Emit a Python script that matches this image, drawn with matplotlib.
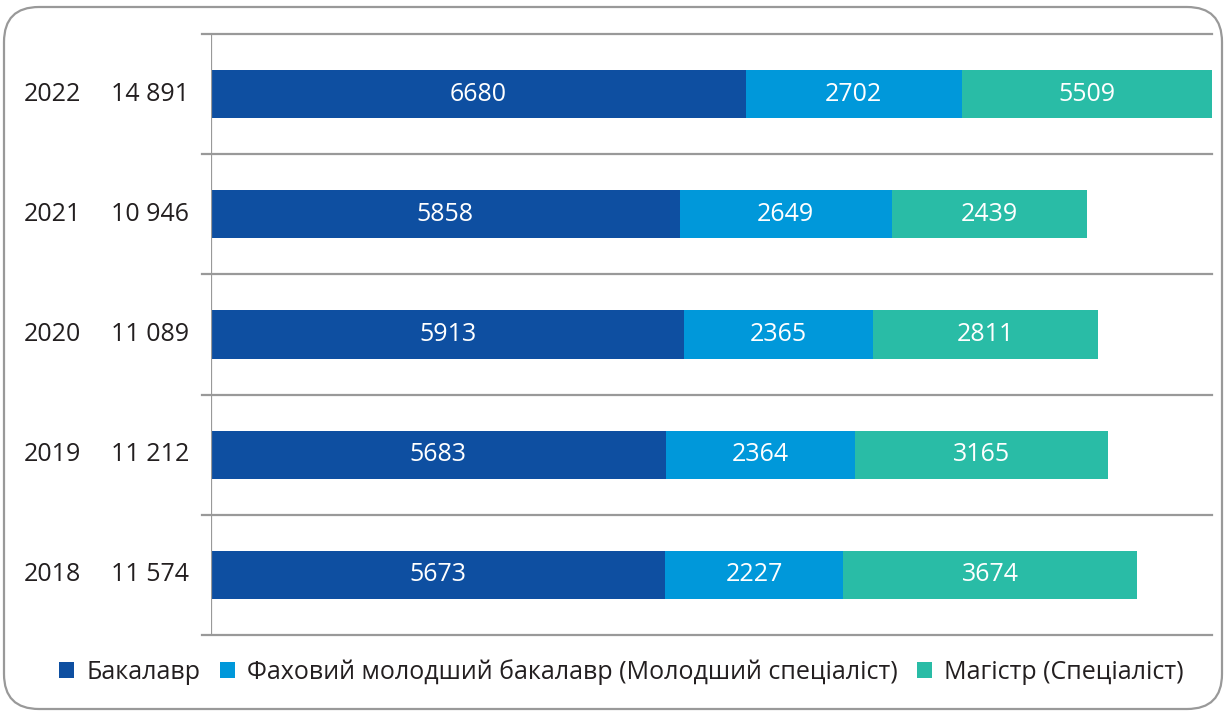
import matplotlib.pyplot as plt
import matplotlib.transforms as mtransforms
from matplotlib.patches import Patch, FancyBboxPatch

plt.rcParams["font.family"] = ["Open Sans", "DejaVu Sans"]

years = ["2018", "2019", "2020", "2021", "2022"]
bachelor = [5673, 5683, 5913, 5858, 6680]
junior = [2227, 2364, 2365, 2649, 2702]
master = [3674, 3165, 2811, 2439, 5509]

series = [bachelor, junior, master]
names = ["Бакалавр", "Фаховий молодший бакалавр (Молодший спеціаліст)", "Магістр (Спеціаліст)"]
colors = ["#0e4fa1", "#0098da", "#29bca6"]

XMAX = 12510
TEXT = "#231f20"
LINE = "#999999"
FS = 18

fig = plt.figure(figsize=(12.26, 7.12), dpi=100)
ax = fig.add_axes([211 / 1226, 1 - 635 / 712, 1001 / 1226, 601 / 712])

ypos = list(range(len(years)))
left = [0] * len(years)
for vals, col in zip(series, colors):
    ax.barh(ypos, vals, left=left, height=0.4, color=col, edgecolor="none")
    for y, l, v in zip(ypos, left, vals):
        vis = min(v, XMAX - l)
        ax.text(l + vis / 2, y, str(v), ha="center", va="center",
                color="white", fontsize=FS)
    left = [a + b for a, b in zip(left, vals)]

ax.set_xlim(0, XMAX)
ax.set_ylim(-0.5, len(years) - 0.5)
ax.axis("off")

# horizontal separators between rows
for b in [i - 0.5 for i in range(len(years) + 1)]:
    ax.axhline(b, xmin=-0.009, xmax=1.0, color=LINE, lw=1.6, clip_on=False, zorder=0)
ax.axvline(0, color=LINE, lw=1.6, zorder=3)

# year and total labels on the left
tr = mtransforms.blended_transform_factory(fig.transFigure, ax.transData)
for y, yr, tot in zip(ypos, years, left):
    ax.text(24 / 1226, y, yr, transform=tr, ha="left", va="center",
            fontsize=FS, color=TEXT)
    ax.text(189 / 1226, y, f"{tot:,}".replace(",", " "), transform=tr,
            ha="right", va="center", fontsize=FS, color=TEXT)

handles = [Patch(facecolor=c, edgecolor="none") for c in colors]
leg = fig.legend(handles, names, loc="center", bbox_to_anchor=(0.507, 1 - 672 / 712),
                 ncol=3, frameon=False, fontsize=FS, handlelength=0.6,
                 handleheight=0.6, handletextpad=0.5, columnspacing=0.75)
for t in leg.get_texts():
    t.set_color(TEXT)

# rounded frame around the whole chart
r = 0.35
frame = FancyBboxPatch((0.04, 0.03), 12.18, 7.02,
                       boxstyle=f"round,pad=0,rounding_size={r}",
                       transform=fig.dpi_scale_trans, facecolor="none",
                       edgecolor=LINE, lw=1.6)
fig.patches.append(frame)

fig.savefig("out.png", dpi=100)
